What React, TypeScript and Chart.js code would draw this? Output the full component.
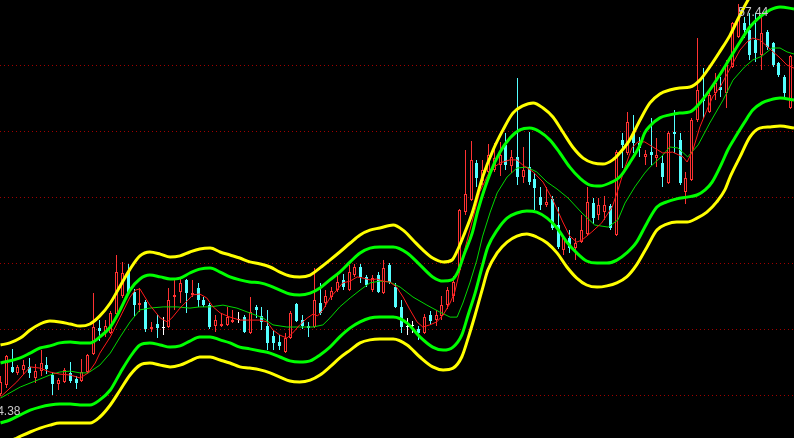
import React, { useEffect, useRef } from 'react';
import { Chart, registerables } from 'chart.js';

Chart.register(...registerables);

// ---- candle data (one entry per trading day) ----
const opens = [
  44.45, 44.75, 45.35, 45.15, 45.25, 45.35, 44.98, 45.21, 45.41, 45.08,
  44.78, 44.85, 45.15, 44.95, 44.88, 45.18, 45.78, 46.65, 46.48, 46.48,
  47.11, 47.71, 48.51, 47.85, 47.41, 47.51, 46.61, 46.78, 46.65, 46.68,
  47.68, 47.85, 48.25, 47.75, 47.98, 47.58, 47.41, 46.71, 46.71, 46.75,
  46.85, 46.91, 47.01, 46.48, 47.35, 47.05, 46.71, 46.38, 46.18, 45.85,
  46.31, 47.45, 46.91, 46.71, 46.68, 47.48, 47.48, 47.68, 47.91, 48.25,
  47.91, 48.41, 48.68, 48.35, 47.91, 48.41, 47.81, 48.75, 48.01, 47.35,
  46.68, 46.71, 46.61, 46.48, 47.08, 46.91, 47.05, 47.41, 47.71, 48.58,
  50.51, 50.91, 52.15, 51.55, 51.85, 51.91, 52.08, 52.75, 52.05, 52.35,
  51.68, 52.01, 51.61, 51.01, 50.75, 50.95, 50.08, 49.25, 49.65, 49.31,
  49.51, 49.78, 50.81, 50.41, 50.51, 50.71, 49.75, 52.91, 52.48, 53.15,
  52.81, 52.35, 52.51, 52.31, 52.15, 51.48, 53.18, 52.91, 51.18, 51.58,
  53.58, 54.28, 53.85, 54.48, 54.68, 54.48, 55.35, 56.35, 56.81, 56.58,
  56.25, 55.75, 56.51, 56.15, 55.48, 55.01, 53.98,
];
const highs = [
  45.05, 45.75, 45.95, 45.41, 45.58, 45.65, 45.45, 45.91, 45.68, 45.18,
  44.98, 45.31, 45.51, 45.05, 45.61, 45.78, 47.81, 46.91, 46.91, 47.21,
  49.08, 48.85, 48.78, 47.95, 47.98, 47.58, 46.85, 47.08, 47.01, 47.98,
  48.25, 48.35, 48.28, 48.25, 48.15, 47.68, 47.48, 47.08, 47.15, 47.35,
  47.25, 47.18, 47.08, 47.68, 47.41, 47.35, 47.25, 46.58, 46.41, 46.48,
  47.21, 47.48, 47.08, 46.85, 48.65, 48.15, 47.91, 48.01, 48.48, 48.45,
  48.75, 48.78, 48.78, 48.41, 48.41, 48.51, 48.91, 48.81, 48.15, 47.58,
  46.98, 46.88, 46.71, 47.11, 47.21, 47.25, 47.71, 48.01, 48.38, 50.61,
  52.58, 52.88, 52.25, 52.25, 52.78, 52.81, 52.85, 53.15, 52.58, 54.98,
  52.68, 53.18, 51.81, 51.35, 51.35, 51.05, 50.68, 49.71, 49.91, 49.65,
  50.41, 51.35, 50.98, 50.98, 51.05, 50.78, 52.58, 53.15, 53.85, 53.75,
  53.01, 52.58, 53.65, 52.98, 52.41, 53.21, 53.91, 53.15, 51.85, 53.65,
  56.31, 55.31, 54.51, 55.15, 55.01, 55.58, 56.85, 57.44, 57.01, 57.15,
  57.15, 57.01, 56.58, 56.18, 55.51, 55.08, 55.75,
];
const lows = [
  44.38, 44.65, 45.15, 45.08, 45.11, 44.98, 44.81, 45.05, 45.11, 44.41,
  44.58, 44.81, 44.81, 44.61, 44.85, 45.15, 45.75, 46.21, 46.35, 46.45,
  47.08, 47.65, 47.78, 47.05, 47.18, 46.51, 46.51, 46.31, 46.41, 46.65,
  47.25, 47.48, 47.15, 47.68, 47.35, 47.35, 46.61, 46.51, 46.68, 46.71,
  46.81, 46.81, 46.48, 46.45, 46.98, 46.58, 45.91, 45.91, 45.91, 45.81,
  46.28, 46.85, 46.61, 46.35, 46.65, 47.08, 47.35, 47.58, 47.85, 47.91,
  47.88, 48.35, 48.15, 48.01, 47.85, 47.81, 47.78, 48.11, 47.31, 46.48,
  46.41, 46.48, 46.25, 46.45, 46.75, 46.71, 46.91, 47.28, 47.51, 48.51,
  50.41, 50.88, 51.35, 51.41, 51.75, 51.85, 51.71, 51.91, 51.81, 51.41,
  51.48, 51.41, 50.58, 50.58, 50.68, 49.91, 49.28, 49.08, 49.15, 48.91,
  49.48, 49.71, 50.11, 50.25, 50.25, 49.91, 49.71, 51.98, 52.41, 52.48,
  52.35, 52.08, 52.08, 52.01, 51.35, 51.45, 52.48, 51.41, 50.78, 51.55,
  53.51, 53.65, 53.81, 54.25, 54.35, 53.98, 55.31, 56.31, 56.31, 55.58,
  55.51, 55.25, 55.91, 55.35, 55.01, 54.35, 53.95,
];
const closes = [
  44.85, 45.71, 45.18, 45.35, 45.41, 45.15, 45.21, 45.48, 45.28, 44.78,
  44.91, 45.25, 44.88, 44.81, 45.18, 45.75, 46.68, 46.55, 46.71, 47.15,
  48.51, 48.48, 47.81, 47.41, 47.48, 46.61, 46.68, 46.65, 46.65, 47.58,
  47.75, 48.15, 47.81, 47.81, 47.58, 47.41, 46.68, 46.91, 46.78, 47.01,
  46.91, 46.91, 46.51, 47.18, 47.25, 46.85, 46.15, 46.15, 46.05, 46.31,
  47.15, 46.88, 46.71, 46.65, 47.58, 47.15, 47.71, 47.88, 48.18, 48.01,
  48.51, 48.68, 48.35, 48.08, 48.31, 47.85, 48.65, 48.18, 47.35, 46.68,
  46.68, 46.71, 46.48, 47.01, 46.88, 47.08, 47.41, 47.91, 48.18, 50.58,
  51.11, 52.25, 51.65, 51.91, 52.41, 52.31, 52.41, 52.08, 52.35, 51.68,
  51.91, 51.51, 51.31, 50.75, 50.85, 49.98, 49.35, 49.65, 49.31, 49.48,
  49.91, 50.85, 50.31, 50.75, 50.75, 49.98, 52.51, 52.75, 53.51, 52.81,
  52.65, 52.45, 52.41, 52.41, 51.68, 53.15, 53.11, 51.48, 51.65, 53.58,
  54.58, 54.21, 54.41, 54.81, 54.58, 55.41, 56.81, 56.98, 56.58, 55.75,
  55.81, 56.48, 56.01, 55.41, 55.08, 54.48, 55.71,
];

// ---- moving averages: [day, price] ----
const maFast: [number, number][] = [
  [0, 44.35], [2.8, 44.85], [5.1, 45.35], [6.8, 45.31], [8.5, 45.18], [10.2, 45.11], [12, 45.08], [13.7, 44.98],
  [15.1, 45.15], [16.3, 45.48], [17.1, 45.81], [18.9, 46.35], [20.6, 47.01], [22.3, 47.68], [23.2, 47.91], [24, 47.95],
  [25.7, 47.41], [27.5, 46.98], [28.7, 46.85], [29.5, 46.98], [30.9, 47.31], [32.3, 47.58], [33.1, 47.75], [34.3, 47.78],
  [35.5, 47.65], [36.6, 47.35], [37.8, 47.15], [39.5, 47.01], [41.2, 46.91], [42.9, 46.91], [44.7, 46.91], [45.9, 46.85],
  [46.9, 46.58], [48.1, 46.41], [49.3, 46.31], [50.3, 46.48], [51.5, 46.75], [52.8, 46.98], [53.8, 47.11], [54.6, 47.05],
  [55.5, 47.25], [56.7, 47.65], [57.9, 47.91], [58.9, 48.15], [60.2, 48.21], [61.4, 48.35], [62.4, 48.31], [63.6, 48.25],
  [64.8, 48.28], [65.8, 48.21], [67, 48.18], [68.2, 48.01], [69.3, 47.68], [70.5, 47.25], [71.7, 46.85], [72.7, 46.68],
  [73.9, 46.75], [75.1, 46.85], [76.2, 47.08], [77.4, 47.48], [78.2, 47.85], [79.1, 48.58], [79.9, 49.25], [80.8, 49.91],
  [81.7, 50.58], [82.5, 51.18], [84.3, 51.91], [86, 52.15], [87.7, 52.25], [88.9, 52.25], [89.9, 52.08], [91.7, 51.85],
  [93.4, 51.51], [95.1, 50.91], [96.8, 50.18], [98, 49.71], [99.2, 49.51], [100.1, 49.58], [101.8, 49.85], [103.5, 50.15],
  [105.3, 50.68], [106.3, 51.25], [107.5, 52.01], [108.7, 52.65], [109.7, 52.85], [110.9, 52.85], [112.3, 52.68], [114, 52.48],
  [115.7, 52.51], [117.5, 52.35], [118.2, 52.18], [119.2, 52.58], [120.4, 53.35], [121.6, 53.91], [122.6, 54.35], [123.8, 54.65],
  [125, 55.08], [126.1, 55.48], [127.3, 55.91], [128.5, 56.18], [129.5, 56.31], [130.7, 56.25], [131.9, 56.05], [133, 55.85],
  [134.2, 55.65], [135.4, 55.41], [136.6, 55.31],
];
const maSlow: [number, number][] = [
  [0, 44.31], [3.4, 44.68], [5.6, 44.85], [8.5, 45.08], [10.2, 45.18], [12, 45.21], [13.7, 45.15], [15.1, 45.15],
  [17.1, 45.41], [18.9, 45.81], [20.6, 46.35], [22.3, 46.85], [24, 47.25], [25.7, 47.31], [28, 47.35], [30.4, 47.35],
  [32.6, 47.31], [34.3, 47.35], [36.1, 47.35], [38.3, 47.41], [40.7, 47.31], [42.9, 47.15], [45.2, 46.98], [46.9, 46.75],
  [49.3, 46.68], [51.5, 46.68], [53.8, 46.68], [55.5, 46.75], [56.7, 46.98], [58.4, 47.35], [60.2, 47.65], [61.9, 47.91],
  [63.6, 48.15], [65.3, 48.21], [67, 48.18], [68.8, 48.01], [71, 47.68], [73.4, 47.41], [75.6, 47.18], [77.4, 47.01],
  [78.6, 47.01], [79.6, 47.48], [80.8, 48.15], [82, 48.91], [83, 49.71], [84.3, 50.51], [85.5, 51.15], [87.2, 51.68],
  [88.9, 51.98], [90.6, 52.01], [92.3, 51.85], [94.1, 51.51], [95.8, 51.28], [97.7, 50.98], [100.1, 50.48], [102.3, 50.08],
  [104.6, 50.01], [106.3, 50.25], [107.5, 50.81], [109.2, 51.35], [110.9, 51.81], [111.8, 52.01], [113.9, 52.38], [115.2, 52.68],
  [116.6, 52.65], [118.3, 52.35], [120.1, 52.75], [122.1, 53.48], [124.4, 54.25], [126.1, 54.91], [128.1, 55.35], [129.5, 55.58],
  [131.1, 55.71], [132.8, 55.98], [134.2, 55.98], [135.4, 55.85], [136.6, 55.78],
];

// ---- envelope bands: [day, price] ----
const bandOuterUpper: [number, number][] = [
  [0, 46.08], [1.6, 46.15], [3.4, 46.31], [5.1, 46.58], [6.8, 46.78], [8.5, 46.88], [10.2, 46.85], [12, 46.78],
  [13.7, 46.71], [15.4, 46.78], [17.1, 47.05], [18.9, 47.48], [20.6, 48.05], [22.3, 48.61], [24, 49.05], [25.7, 49.18],
  [27.5, 49.11], [29.2, 49.01], [30.9, 49.05], [32.6, 49.18], [34.3, 49.28], [36.1, 49.31], [37.8, 49.18], [39.5, 49.08],
  [41.2, 48.98], [42.9, 48.85], [44.7, 48.78], [46.4, 48.68], [48.1, 48.51], [49.8, 48.38], [51.5, 48.35], [53.3, 48.41],
  [55, 48.65], [56.7, 48.91], [58.4, 49.18], [60.2, 49.48], [61.9, 49.75], [63.6, 49.91], [65.3, 49.98], [67.6, 50.08],
  [69.3, 49.91], [71, 49.58], [72.7, 49.25], [74.4, 48.98], [76.2, 48.85], [77.7, 48.91], [78.7, 49.25], [79.9, 49.81],
  [81.2, 50.48], [82.2, 51.15], [83, 51.68], [84.8, 52.58], [86.5, 53.25], [88.2, 53.81], [89.9, 54.05], [91.7, 54.15],
  [93.4, 53.98], [95.1, 53.68], [96.8, 53.18], [98.5, 52.68], [100.3, 52.31], [102, 52.15], [103.7, 52.11], [105.4, 52.25],
  [106.6, 52.48], [108.3, 52.91], [110.1, 53.58], [111.8, 54.15], [113.5, 54.45], [115.2, 54.58], [116.9, 54.65], [118.7, 54.68],
  [120.4, 54.91], [122.1, 55.35], [123.8, 55.85], [125.6, 56.41], [127.3, 57.08], [129, 57.68], [130.7, 58.11], [132.5, 58.38],
  [134.2, 58.51], [136.6, 58.48],
];
const bandInnerUpper: [number, number][] = [
  [0, 45.48], [3.4, 45.65], [5.1, 45.81], [6.8, 45.98], [8.5, 46.05], [10.2, 46.15], [12, 46.18], [13.7, 46.15],
  [15.4, 46.15], [17.1, 46.35], [18.9, 46.68], [20.6, 47.25], [22.3, 47.91], [24, 48.28], [25.7, 48.41], [27.5, 48.35],
  [29.2, 48.28], [30.9, 48.31], [32.6, 48.48], [34.3, 48.61], [36.1, 48.65], [37.8, 48.51], [39.5, 48.35], [41.2, 48.25],
  [42.9, 48.18], [44.7, 48.15], [46.4, 48.05], [48.1, 47.91], [49.8, 47.78], [51.5, 47.75], [53.3, 47.81], [55, 47.98],
  [56.7, 48.25], [58.4, 48.51], [60.2, 48.85], [61.9, 49.15], [63.6, 49.31], [65.3, 49.35], [67.6, 49.35], [70, 49.15],
  [72.2, 48.75], [74.4, 48.35], [76.2, 48.21], [77.7, 48.25], [78.7, 48.51], [79.9, 49.15], [81.2, 49.81], [82.2, 50.58],
  [84.3, 51.81], [86, 52.51], [87.7, 52.98], [89.4, 53.25], [91.1, 53.31], [92.9, 53.18], [94.6, 52.91], [96.3, 52.48],
  [98, 52.01], [99.7, 51.65], [101.5, 51.41], [103.2, 51.38], [104.9, 51.48], [106.6, 51.68], [108.3, 52.15], [110.1, 52.75],
  [110.9, 53.15], [111.8, 53.38], [113.5, 53.65], [115.2, 53.75], [116.9, 53.81], [118.7, 53.85], [120.4, 54.15], [122.1, 54.58],
  [123.8, 55.08], [125.6, 55.65], [127.3, 56.18], [129, 56.68], [130.7, 57.01], [132.5, 57.25], [134.2, 57.35], [136.6, 57.28],
];
const bandInnerLower: [number, number][] = [
  [0, 43.48], [1.6, 43.58], [3.4, 43.75], [5.1, 43.91], [6.8, 44.01], [8.5, 44.08], [10.2, 44.11], [12, 44.11],
  [13.7, 44.08], [15.4, 44.08], [17.1, 44.25], [18.9, 44.58], [20.6, 45.15], [22.3, 45.68], [24, 46.08], [25.7, 46.15],
  [27.5, 46.08], [29.2, 46.01], [30.9, 46.05], [32.6, 46.21], [34.3, 46.35], [36.1, 46.35], [37.8, 46.25], [39.5, 46.15],
  [41.2, 46.01], [42.9, 45.95], [44.7, 45.88], [46.4, 45.81], [48.1, 45.68], [49.8, 45.55], [51.5, 45.51], [53.3, 45.55],
  [55, 45.75], [56.7, 46.01], [58.4, 46.35], [60.2, 46.65], [61.9, 46.85], [63.6, 46.98], [65.3, 47.01], [67.6, 47.01],
  [70, 46.81], [72.2, 46.35], [74.4, 46.01], [76.2, 45.91], [77.9, 46.01], [79.4, 46.41], [80.5, 47.08], [81.7, 47.81],
  [82.9, 48.68], [83.9, 49.35], [85.5, 49.91], [87.2, 50.31], [88.9, 50.48], [90.6, 50.55], [92.3, 50.51], [94.1, 50.31],
  [95.8, 49.98], [97.5, 49.51], [99.2, 49.15], [100.9, 48.88], [102.7, 48.81], [104.4, 48.81], [106.1, 48.91], [107.8, 49.15],
  [109.5, 49.51], [111.3, 50.15], [113, 50.68], [114.7, 50.85], [116.4, 50.95], [118.2, 51.01], [119.9, 51.08], [121.3, 51.25],
  [122.5, 51.51], [124.2, 52.15], [125.2, 52.58], [126.4, 52.98], [128.1, 53.51], [129.5, 53.91], [131.1, 54.15], [132.5, 54.25],
  [134.2, 54.31], [136.6, 54.25],
];
const bandOuterLower: [number, number][] = [
  [0, 42.81], [1.6, 42.88], [2.8, 42.98], [5.1, 43.18], [6.8, 43.31], [8.5, 43.41], [10.2, 43.48], [12, 43.48],
  [13.7, 43.48], [15.4, 43.48], [17.1, 43.68], [18.9, 44.08], [20.6, 44.58], [22.3, 45.08], [24, 45.41], [25.7, 45.48],
  [27.5, 45.41], [29.2, 45.35], [30.9, 45.41], [32.6, 45.55], [34.3, 45.68], [36.1, 45.68], [37.8, 45.58], [39.5, 45.48],
  [41.2, 45.35], [42.9, 45.31], [44.7, 45.25], [46.4, 45.15], [48.1, 45.01], [49.8, 44.88], [51.5, 44.85], [53.3, 44.91],
  [55, 45.08], [56.7, 45.35], [58.4, 45.65], [60.2, 45.91], [61.9, 46.15], [63.6, 46.25], [65.3, 46.28], [67.6, 46.28],
  [70, 46.08], [72.2, 45.68], [74.4, 45.35], [76.2, 45.25], [77.9, 45.31], [79.4, 45.68], [80.5, 46.31], [81.7, 47.08],
  [82.9, 47.91], [83.9, 48.58], [85.5, 49.15], [87.2, 49.51], [88.9, 49.71], [90.6, 49.78], [92.3, 49.68], [94.1, 49.48],
  [95.8, 49.15], [97.5, 48.68], [99.2, 48.31], [100.9, 48.08], [102.7, 48.01], [104.4, 48.05], [106.1, 48.15], [107.8, 48.35],
  [109.5, 48.75], [111.3, 49.35], [113, 49.91], [114.7, 50.11], [116.4, 50.18], [118.2, 50.18], [119.9, 50.31], [121.6, 50.51],
  [123.3, 50.85], [124.7, 51.25], [125.6, 51.68], [127.3, 52.35], [129, 53.01], [130.7, 53.31], [132.5, 53.35], [134.2, 53.38],
  [136.6, 53.31],
];

// ---- horizontal dotted grid levels ----
const gridLevels = [44.4, 46.6, 48.8, 51.0, 53.2, 55.4];

const UP = '#ff3232';
const DOWN = '#54ffff';
const FLAT = '#ffffff';

export default function App() {
  const ref = useRef<HTMLCanvasElement>(null);

  useEffect(() => {
    document.body.style.margin = '0';
    document.body.style.background = '#000';
    const colorOf = (i: number) => (closes[i] > opens[i] ? UP : closes[i] < opens[i] ? DOWN : FLAT);
    const colors = opens.map((_, i) => colorOf(i));
    const bodyFill = opens.map((_, i) => (colorOf(i) === UP ? '#000000' : colorOf(i)));
    const wickData = opens.map((_, i) => ({ x: i, y: [lows[i], highs[i]] }));
    const bodyData = opens.map((o, i) => ({ x: i, y: [o, closes[i]] }));
    const pts = (arr: [number, number][]) => arr.map(([x, y]) => ({ x, y }));

    const band = (arr: [number, number][], color: string) => ({
      type: 'line' as const,
      data: pts(arr),
      borderColor: color,
      borderWidth: 3,
      pointRadius: 0,
      cubicInterpolationMode: 'monotone' as const,
      fill: false,
      order: 1,
    });
    const ma = (arr: [number, number][], color: string) => ({
      type: 'line' as const,
      data: pts(arr),
      borderColor: color,
      borderWidth: 1,
      pointRadius: 0,
      tension: 0,
      fill: false,
      order: 5,
    });

    // snap candle elements to whole pixels so they render crisp
    const snap = {
      id: 'snap',
      beforeDatasetsDraw(chart: any) {
        [0, 1].forEach((di) => {
          const meta = chart.getDatasetMeta(di);
          meta.data.forEach((el: any) => {
            el.x = Math.floor(el.x) + 0.5;
            el.y = Math.round(el.y);
            el.base = Math.round(el.base);
          });
        });
      },
    };

    const extremes = {
      id: 'extremes',
      beforeDraw(chart: any) {
        const { ctx, width, height } = chart;
        ctx.save();
        ctx.fillStyle = '#000';
        ctx.fillRect(0, 0, width, height);
        ctx.restore();
      },
      afterDatasetsDraw(chart: any) {
        const { ctx } = chart;
        const xs = chart.scales.x;
        const ys = chart.scales.y;
        const hi = Math.max(...highs);
        const hiIdx = highs.indexOf(hi);
        const lo = Math.min(...lows);
        const loIdx = lows.indexOf(lo);
        ctx.save();
        ctx.font = '12px "Liberation Sans", Arial, sans-serif';
        ctx.fillStyle = '#c8c8c8';
        ctx.textBaseline = 'middle';
        ctx.textAlign = 'left';
        ctx.fillText(hi.toFixed(2), xs.getPixelForValue(hiIdx), ys.getPixelForValue(hi) + 8);
        ctx.textAlign = 'right';
        ctx.fillText(lo.toFixed(2), xs.getPixelForValue(loIdx) + 20, ys.getPixelForValue(lo) + 16);
        ctx.restore();
      },
    };

    const chart = new Chart(ref.current as HTMLCanvasElement, {
      type: 'bar',
      data: {
        datasets: [
          {
            type: 'bar',
            data: wickData as any,
            backgroundColor: colors,
            borderWidth: 0,
            barThickness: 1,
            grouped: false,
            inflateAmount: 0,
            order: 10,
          } as any,
          {
            type: 'bar',
            data: bodyData as any,
            backgroundColor: bodyFill,
            borderColor: colors,
            borderWidth: 1,
            borderSkipped: false,
            barThickness: 3,
            minBarLength: 1,
            grouped: false,
            inflateAmount: 0,
            order: 9,
          } as any,
          ma(maFast, '#ff1a1a'),
          ma(maSlow, '#00d800'),
          band(bandOuterUpper, '#ffff00'),
          band(bandInnerUpper, '#00ff00'),
          band(bandInnerLower, '#00ff00'),
          band(bandOuterLower, '#ffff00'),
        ] as any,
      },
      options: {
        responsive: false,
        animation: false,
        devicePixelRatio: 1,
        layout: { padding: 0 },
        plugins: { legend: { display: false }, tooltip: { enabled: false } },
        scales: {
          x: {
            type: 'linear',
            min: -0.09,
            max: 136.6,
            offset: false,
            display: false,
          },
          y: {
            type: 'linear',
            min: 42.98,
            max: 57.58,
            beginAtZero: false,
            display: true,
            afterBuildTicks: (s: any) => {
              s.ticks = gridLevels.map((v) => ({ value: v }));
            },
            ticks: { display: false },
            grid: { color: '#a00000', lineWidth: 1, drawTicks: false },
            border: { display: false, dash: [1, 3] },
          },
        },
      } as any,
      plugins: [extremes, snap],
    });
    return () => chart.destroy();
  }, []);

  return (
    <div style={{ position: 'absolute', left: 0, top: 0, width: 794, height: 438, background: '#000' }}>
      <canvas ref={ref} width={794} height={438} style={{ display: 'block' }} />
    </div>
  );
}
